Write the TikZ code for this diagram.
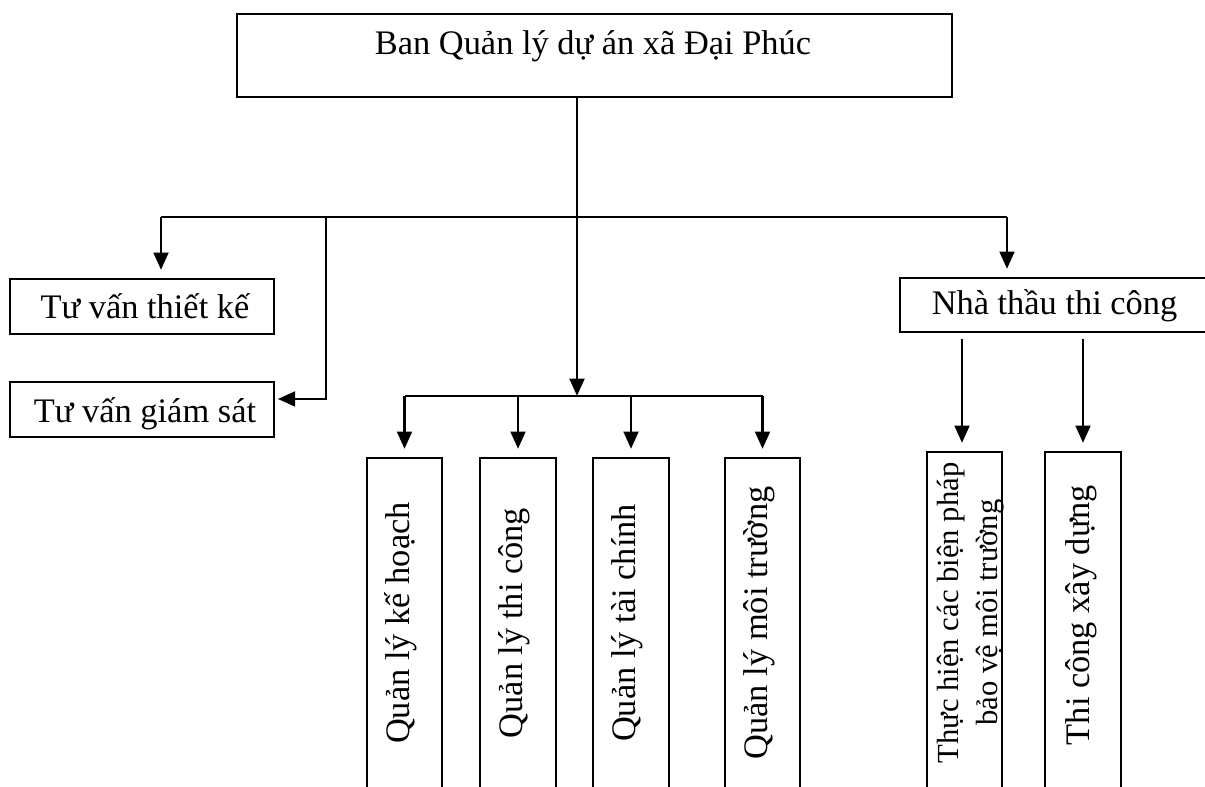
\documentclass[tikz,border=0pt]{standalone}
\usepackage{fontspec}
\setmainfont{Liberation Serif}
\usetikzlibrary{arrows.meta}
\def\pu{0.75pt}
\begin{document}
\begin{tikzpicture}[x=0.75pt,y=-0.75pt,
  every node/.style={inner sep=0pt, font=\fontsize{25.8}{28}\selectfont},
  box/.style={draw, line width=1.7pt},
  label/.style={anchor=base},
  vlabel/.style={anchor=base, rotate=90},
  small/.style={font=\fontsize{23}{26}\selectfont},
  plain/.style={line width=2.2pt},
  link/.style={line width=2.2pt, shorten >=6pt, -{Triangle[length=13pt,width=11pt]}}]
\useasboundingbox (0,0) rectangle (1205,787);
\clip (0,0) rectangle (1205,787);

% head office
\node[box, line width=2.2pt, minimum width=715*\pu, minimum height=83*\pu] (ban) at (594.5,55.5) {};
\node[label] (bant) at (593,55) {Ban Quản lý dự án xã Đại Phúc};

% consultants on the left
\node[box, minimum width=264*\pu, minimum height=55*\pu] (tk) at (142,306.5) {};
\node[label] (tkt) at (145,319) {Tư vấn thiết kế};
\node[box, minimum width=264*\pu, minimum height=55*\pu] (gs) at (142,409.5) {};
\node[label] (gst) at (145,422) {Tư vấn giám sát};

% contractor on the right
\node[box, minimum width=309*\pu, minimum height=54*\pu] (nt) at (1054.5,305) {};
\node[label] (ntt) at (1054.5,315) {Nhà thầu thi công};

% management units (open at the bottom edge)
\node[box, minimum width=75*\pu, minimum height=342*\pu] (m1) at (404.5,629) {};
\node[box, minimum width=76*\pu, minimum height=342*\pu] (m2) at (518,629) {};
\node[box, minimum width=76*\pu, minimum height=342*\pu] (m3) at (631,629) {};
\node[box, minimum width=75*\pu, minimum height=342*\pu] (m4) at (762.5,629) {};
\node[vlabel] (m1t) at (409,623) {Quản lý kế hoạch};
\node[vlabel] (m2t) at (522.5,623) {Quản lý thi công};
\node[vlabel] (m3t) at (635.5,623) {Quản lý tài chính};
\node[vlabel] (m4t) at (767,623) {Quản lý môi trường};

% contractor tasks
\node[box, minimum width=75*\pu, minimum height=348*\pu] (r1) at (964.5,626) {};
\node[box, minimum width=76*\pu, minimum height=348*\pu] (r2) at (1083,626) {};
\node[vlabel, small] (r1a) at (958,613) {Thực hiện các biện pháp};
\node[vlabel, small] (r1b) at (997,612.5) {bảo vệ môi trường};
\node[vlabel] (r2t) at (1089,615) {Thi công xây dựng};

% junction points
\coordinate (hub) at (577,217);
\coordinate (lbar) at (161,217);
\coordinate (rbar) at (1007,217);
\coordinate (lsplit) at (326,217);
\coordinate (midbar) at (577,396);

% connectors
\draw[plain] (lbar) -- (rbar);
\draw[link, shorten >=0pt] (hub |- ban.south) -- (midbar);
\draw[link] (lbar) -- (lbar |- tk.north);
\draw[link, shorten >=2pt] (lsplit) |- ([yshift=7.9pt]gs.east);
\draw[link] (rbar) -- (rbar |- nt.north);

\draw[plain] (m1.north |- midbar) -- (m4.north |- midbar);
\foreach \m in {m1,m2,m3,m4}
  \draw[link] (\m.north |- midbar) -- (\m.north);

\draw[link] ([yshift=-4.5pt]nt.south -| 962,0) -- (962,0 |- r1.north);
\draw[link] ([yshift=-4.5pt]nt.south -| r2.north) -- (r2.north);
\end{tikzpicture}
\end{document}
